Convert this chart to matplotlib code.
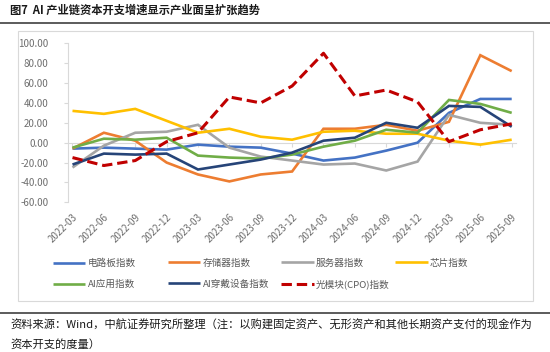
import matplotlib
matplotlib.use("Agg")
import matplotlib.pyplot as plt
from matplotlib.lines import Line2D
from matplotlib.patches import Rectangle

plt.rcParams['font.family'] = ['Noto Sans CJK SC', 'DejaVu Sans']

quarters = ["2022-03", "2022-06", "2022-09", "2022-12", "2023-03", "2023-06", "2023-09",
            "2023-12", "2024-03", "2024-06", "2024-09", "2024-12", "2025-03", "2025-06", "2025-09"]

pcb = [-6, -5, -6, -7, -2, -4, -5, -11, -18, -15, -8, 0, 30, 44, 44]
memory = [-6, 10, 2, -20, -32, -39, -32, -29, 14, 14, 18, 12, 21, 88, 72]
server = [-25, -3, 10, 11, 18, -5, -14, -18, -22, -21, -28, -19, 28, 20, 18]
chip = [32, 29, 34, 22, 10, 14, 6, 3, 11, 12, 9, 9, 2, -2, 3]
ai_app = [-5, 4, 3, 5, -13, -15, -16, -12, -4, 2, 13, 10, 43, 39, 30]
ai_wear = [-22, -11, -12, -11, -27, -22, -17, -10, 2, 5, 20, 15, 37, 36, 16]
cpo = [-15, -23, -18, 1, 10, 46, 40, 57, 90, 47, 53, 41, 1, 13, 19]

series_names = ["电路板指数", "存储器指数", "服务器指数", "芯片指数", "AI应用指数", "AI穿戴设备指数", "光模块(CPO)指数"]
yticks = [-60, -40, -20, 0, 20, 40, 60, 80, 100]

W, H = 550, 352
fig = plt.figure(figsize=(W / 100, H / 100), dpi=100)

def fx(px):
    return px / W

def fy(py):
    return 1 - py / H

# chart frame
fig.add_artist(Rectangle((fx(18), fy(301)), fx(533) - fx(18), fy(31) - fy(301),
                         transform=fig.transFigure, fill=False, edgecolor='#D9D9D9', lw=0.8))
# separator lines
fig.add_artist(Line2D([0, 1], [fy(23.3), fy(23.3)], transform=fig.transFigure, color='#404040', lw=1.2))
fig.add_artist(Line2D([0, 1], [fy(313), fy(313)], transform=fig.transFigure, color='#404040', lw=1.2))

fig.text(fx(10.5), fy(10.5), "图7  AI 产业链资本开支增速显示产业面呈扩张趋势", fontsize=8.1,
         fontweight='bold', ha='left', va='center', color='#1a1a1a')
fig.text(fx(10.5), fy(325), "资料来源：Wind，中航证券研究所整理（注：以购建固定资产、无形资产和其他长期资产支付的现金作为",
         fontsize=8.1, ha='left', va='center', color='#1a1a1a')
fig.text(fx(10.5), fy(344), "资本开支的度量）", fontsize=8.1, ha='left', va='center', color='#1a1a1a')

ax = fig.add_axes([fx(67.7), fy(202.3), fx(516) - fx(67.7), fy(43.3) - fy(202.3)])
x = list(range(len(quarters)))

colors = ['#4472C4', '#ED7D31', '#A5A5A5', '#FFC000', '#70AD47', '#264478', '#C00000']
data = [pcb, memory, server, chip, ai_app, ai_wear, cpo]
handles = []
for i, (vals, name, c) in enumerate(zip(data, series_names, colors)):
    if i == 6:
        ln, = ax.plot(x, vals, color=c, lw=2.2, linestyle=(0, (3.4, 1.6)), label=name,
                      solid_capstyle='butt', dash_capstyle='butt')
    else:
        ln, = ax.plot(x, vals, color=c, lw=1.9, label=name, solid_capstyle='butt',
                      solid_joinstyle='miter')
    handles.append(ln)

ax.set_xlim(-0.153, 14.137)
ax.set_ylim(-60, 100)
ax.set_yticks(yticks)
ax.set_yticklabels([f"{v:.2f}" for v in yticks])
ax.set_xticks(x)
ax.set_xticklabels(quarters, rotation=45, ha='right', va='top', rotation_mode='anchor')
ax.tick_params(axis='x', length=0, pad=7, labelsize=7, labelcolor='#6E6E6E')
ax.tick_params(axis='y', length=3, direction='out', color='#D9D9D9', pad=11,
               labelsize=7, labelcolor='#6E6E6E')
for s in ['top', 'right', 'bottom']:
    ax.spines[s].set_visible(False)
ax.spines['left'].set_color('#D9D9D9')
ax.spines['left'].set_linewidth(0.8)
ax.set_facecolor('none')

# zero axis with tick marks
sec = ax.secondary_xaxis(60 / 160)
sec.set_xticks(x)
sec.set_xticklabels([])
sec.tick_params(axis='x', length=3, direction='out', color='#D9D9D9')
sec.spines['bottom'].set_color('#D9D9D9')
sec.spines['bottom'].set_linewidth(0.8)
for ln in handles:
    ln.set_zorder(3)

# legends (Excel-style fixed-width columns)
cols = [[0, 4], [1, 5], [2, 6], [3]]
col_x = [52.9, 167.5, 281, 395]
for idxs, cx in zip(cols, col_x):
    lg = fig.legend([handles[i] for i in idxs], [series_names[i] for i in idxs],
                    loc='upper left', bbox_to_anchor=(fx(cx), fy(258.5)),
                    frameon=False, fontsize=6.9, handlelength=3.4, handletextpad=0.25,
                    labelspacing=1.25, borderpad=0, borderaxespad=0)
    for t in lg.get_texts():
        t.set_color('#595959')

fig.savefig("out.png", dpi=100)
